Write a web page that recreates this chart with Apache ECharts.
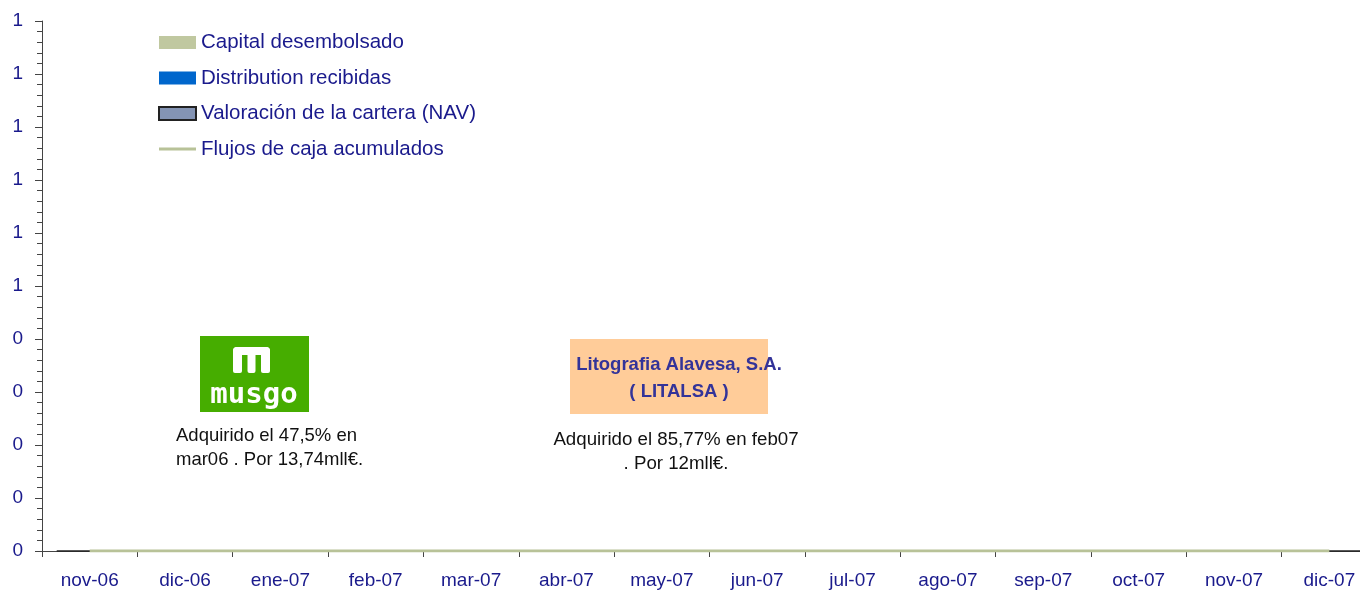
<!DOCTYPE html>
<html>
<head>
<meta charset="utf-8">
<script src="https://cdn.jsdelivr.net/npm/echarts@6/dist/echarts.min.js"></script>
<style>
  html, body { margin: 0; padding: 0; background: #fff; }
  #chart { width: 1360px; height: 591px; }
</style>
</head>
<body>
<div id="chart"></div>
<script>
// datos
var meses = ['nov-06', 'dic-06', 'ene-07', 'feb-07', 'mar-07', 'abr-07', 'may-07',
  'jun-07', 'jul-07', 'ago-07', 'sep-07', 'oct-07', 'nov-07', 'dic-07'];
var capital = [0, 0, 0, 0, 0, 0, 0, 0, 0, 0, 0, 0, 0, 0];
var distribuciones = [0, 0, 0, 0, 0, 0, 0, 0, 0, 0, 0, 0, 0, 0];
var nav = [0, 0, 0, 0, 0, 0, 0, 0, 0, 0, 0, 0, 0, 0];
var flujos = [0, 0, 0, 0, 0, 0, 0, 0, 0, 0, 0, 0, 0, 0];
var ejeY = { min: 0, max: 1, interval: 0.1 };

var azul = '#1a1a8c';
var fuente = 'Liberation Sans, Arial, sans-serif';

var chart = echarts.init(document.getElementById('chart'));

chart.setOption({
  animation: false,
  backgroundColor: '#fff',
  grid: { left: 42, width: 1335, top: 21, height: 530, containLabel: false, outerBoundsMode: 'none' },
  legend: {
    orient: 'vertical',
    left: 158,
    top: 32,
    padding: 0,
    itemWidth: 37,
    itemHeight: 13,
    itemGap: 14.5,
    textStyle: { color: azul, fontSize: 20.5, fontFamily: fuente },
    data: [
      { name: 'Capital desembolsado', icon: 'rect' },
      { name: 'Distribution recibidas', icon: 'rect' },
      { name: 'Valoración de la cartera (NAV)', icon: 'rect' },
      { name: 'Flujos de caja acumulados', icon: 'path://M0,0L37,0L37,3L0,3Z' }
    ]
  },
  xAxis: {
    type: 'category',
    data: meses,
    boundaryGap: true,
    axisLine: { lineStyle: { color: '#444', width: 1 } },
    axisTick: { show: true, length: 6, lineStyle: { color: '#444' } },
    axisLabel: { color: azul, fontSize: 19, fontFamily: fuente, margin: 20 }
  },
  yAxis: {
    type: 'value',
    min: ejeY.min,
    max: ejeY.max,
    interval: ejeY.interval,
    splitLine: { show: false },
    axisLine: { show: true, lineStyle: { color: '#444', width: 1 } },
    axisTick: { show: true, length: 7, lineStyle: { color: '#444' } },
    minorTick: { show: true, splitNumber: 5, length: 5, lineStyle: { color: '#444' } },
    axisLabel: {
      color: azul, fontSize: 19, fontFamily: fuente, margin: 19,
      formatter: function (v) { return String(Math.round(v + 1e-9)); }
    }
  },
  series: [
    { name: 'Capital desembolsado', type: 'bar', stack: 'a', data: capital, itemStyle: { color: '#c0c8a0' } },
    { name: 'Distribution recibidas', type: 'bar', stack: 'a', data: distribuciones, itemStyle: { color: '#0066cc' } },
    { name: 'Valoración de la cartera (NAV)', type: 'bar', stack: 'a', data: nav, itemStyle: { color: '#8494b4', borderColor: '#222', borderWidth: 1 } },
    { name: 'Flujos de caja acumulados', type: 'line', data: flujos, symbol: 'none', showSymbol: false, lineStyle: { color: '#b8c298', width: 3 }, itemStyle: { color: '#b8c298' } }
  ],
  graphic: [
    // logo musgo
    { type: 'rect', shape: { x: 200, y: 336, width: 109, height: 76 }, style: { fill: '#46ad00' } },
    { type: 'rect', shape: { x: 233, y: 347, width: 37, height: 8, r: [4, 4, 0, 0] }, style: { fill: '#fff' } },
    { type: 'rect', shape: { x: 233, y: 347, width: 9, height: 26, r: [4, 0, 2, 2] }, style: { fill: '#fff' } },
    { type: 'rect', shape: { x: 247.5, y: 352, width: 8, height: 21, r: 2 }, style: { fill: '#fff' } },
    { type: 'rect', shape: { x: 261, y: 347, width: 9, height: 26, r: [0, 4, 2, 2] }, style: { fill: '#fff' } },
    { type: 'text', style: { text: 'musgo', x: 254, y: 395, align: 'center', verticalAlign: 'middle', fill: '#fff', font: 'bold 29px "DejaVu Sans Mono", monospace' } },
    { type: 'text', style: { text: 'Adquirido el 47,5% en\nmar06 . Por 13,74mll€.', x: 176, y: 424, lineHeight: 24, fill: '#111', font: '18.5px ' + fuente } },
    // Litalsa
    { type: 'rect', shape: { x: 570, y: 339, width: 198, height: 75 }, style: { fill: '#ffcc99' } },
    { type: 'text', style: { text: 'Litografia Alavesa, S.A.\n( LITALSA )', x: 679, y: 378, align: 'center', verticalAlign: 'middle', lineHeight: 27, fill: '#333399', font: 'bold 18.5px ' + fuente } },
    { type: 'text', style: { text: 'Adquirido el 85,77% en feb07\n. Por 12mll€.', x: 676, y: 452, align: 'center', verticalAlign: 'middle', lineHeight: 24, fill: '#111', font: '18.7px ' + fuente } }
  ]
});
</script>
</body>
</html>
